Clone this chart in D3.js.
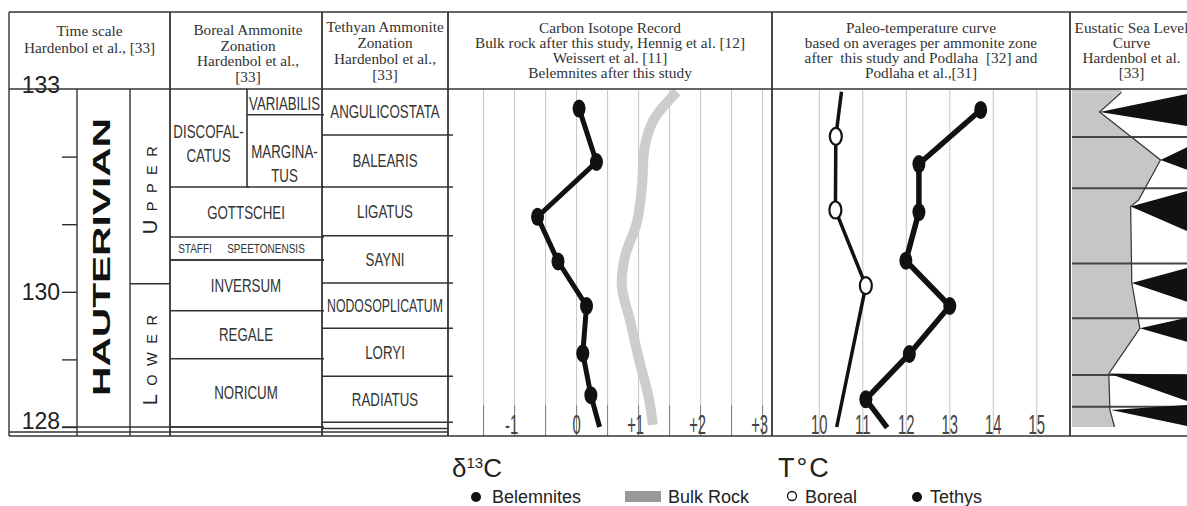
<!DOCTYPE html>
<html><head><meta charset="utf-8">
<script src="https://cdn.jsdelivr.net/npm/d3@7"></script>
<style>body{margin:0;background:#fff}</style>
</head><body>
<svg id="c" width="1187" height="506"></svg>
<script>
// ================= DATA =================
const ageDomain = [133, 128];
const ageTicks = [133, 132, 131, 130, 129, 128];
const ageTickLabels = [133, 130, 128];

const stageName = "HAUTERIVIAN";
const substageNames = ["UPPER", "LOWER"];
const substageBoundaryAge = 130.12;

const borealZones = ["DISCOFAL-|CATUS", "VARIABILIS", "MARGINA-|TUS", "GOTTSCHEI", "STAFFI", "SPEETONENSIS", "INVERSUM", "REGALE", "NORICUM"];
const borealTop   = [133, 133, 132.62, 131.55, 130.81, 130.81, 130.47, 129.72, 129.01];
const borealBase  = [131.55, 132.62, 131.55, 130.81, 130.47, 130.47, 129.72, 129.01, 128];
const borealPart  = ["left", "right", "right", "full", "smallL", "smallR", "full", "full", "full"];

const tethyanZones = ["ANGULICOSTATA", "BALEARIS", "LIGATUS", "SAYNI", "NODOSOPLICATUM", "LORYI", "RADIATUS"];
const tethyanBounds = [133, 132.32, 131.55, 130.83, 130.13, 129.46, 128.75, 128.07];

const d13cGrid = [-1.5, -1, -0.5, 0, 0.5, 1, 1.5, 2, 2.5, 3];
const d13cTicks = [-1, 0, 1, 2, 3];
const d13cTickLabels = ["-1", "0", "+1", "+2", "+3"];

const belemniteAge  = [132.71, 131.92, 131.11, 130.45, 129.79, 129.09, 128.47];
const belemniteD13C = [0.04, 0.32, -0.63, -0.30, 0.16, 0.10, 0.23];
const belemniteTail = [128.0, 0.37];

const bulkAge  = [132.96, 132.54, 132.15, 131.51, 131.02, 130.52, 130.08, 129.58, 128.95, 128.45, 128.03];
const bulkD13C = [1.62, 1.24, 1.10, 1.05, 0.97, 0.78, 0.73, 0.86, 1.02, 1.16, 1.23];

const tempTicks = [10, 11, 12, 13, 14, 15];
const borealTempAge = [132.30, 131.21, 130.09];
const borealTemp    = [10.38, 10.37, 11.07];
const borealTempHead = [132.96, 10.51];
const borealTempTail = [128.0, 10.40];
const tethysTempAge = [132.69, 131.89, 131.18, 130.46, 129.79, 129.08, 128.41];
const tethysTemp    = [13.71, 12.29, 12.29, 11.99, 13.00, 12.07, 11.07];
const tethysTempTail = [127.99, 11.56];

const seaLevelAge = [132.95, 132.66, 131.95, 131.36, 131.26, 130.13, 129.46, 128.79, 128.25, 128.0];
const seaLevel    = [43, 24, 77, 58, 51, 52, 59, 32, 33, 37];
const wedgeApexAge   = [132.66, 131.95, 131.26, 130.13, 129.46, 128.79, 128.25];
const wedgeApexLevel = [24, 77, 51, 52, 59, 32, 34];
const wedgeTopAge    = [132.94, 132.17, 131.51, 130.37, 129.63, 128.77, 128.33];
const wedgeBaseAge   = [132.44, 131.78, 130.87, 129.83, 129.24, 128.36, 128.0];
const sequenceBoundaryAge = [132.29, 131.53, 130.42, 129.61, 128.77, 128.30];

const headerTitles = [
  ["Time scale", "Hardenbol et al., [33]"],
  ["Boreal Ammonite", "Zonation", "Hardenbol et al.,", "[33]"],
  ["Tethyan Ammonite", "Zonation", "Hardenbol et al.,", "[33]"],
  ["Carbon Isotope Record", "Bulk rock after this study, Hennig et al. [12]", "Weissert et al. [11]", "Belemnites after this study"],
  ["Paleo-temperature curve", "based on averages per ammonite zone", "after  this study and Podlaha  [32] and", "Podlaha et al.,[31]"],
  ["Eustatic Sea Level", "Curve", "Hardenbol et al.", "[33]"]
];
const legendItems = ["Belemnites", "Bulk Rock", "Boreal", "Tethys"];

// ================= LAYOUT =================
const SANS = "'Liberation Sans', Arial, Helvetica, sans-serif";
const SERIF = "'Liberation Serif', 'Times New Roman', serif";
const LINE = "#333";
const colX = [9, 170, 322, 448, 772, 1070, 1187];
const headTop = 12, headBot = 89, bodyBot = 436;

const svg = d3.select("#c");
svg.append("rect").attr("width", 1187).attr("height", 506).attr("fill", "#fff");

const y = d3.scaleLinear().domain(ageDomain).range([89, 427]);
const xC = d3.scaleLinear().domain([-1.5, 3]).range([576.6 - 93, 576.6 + 186]);
const xT = d3.scaleLinear().domain([10, 15]).range([819.3, 1036.8]);
const xS = d3.scaleLinear().domain([0, 100]).range([1072, 1187]);

function nText(g, x, yy, str, size, sx, maxW, opts = {}) {
  const t = g.append("text")
    .attr("font-family", SANS).attr("font-size", size)
    .attr("text-anchor", opts.anchor || "middle")
    .attr("fill", opts.fill || "#333")
    .text(str);
  let s = sx;
  if (maxW) { const w = t.node().getComputedTextLength(); if (w * s > maxW) s = maxW / w; }
  t.attr("transform", `translate(${x},${yy}) scale(${s},1)`);
  return t;
}

// ---------- header ----------
const hdr = svg.append("g");
const hStart = [36, 35, 32, 33, 33, 33];
const hStep = [17, 15.5, 16, 15, 15, 15];
const hShift = [0, 2, 0, 0, 0, 3];
headerTitles.forEach((lines, i) => {
  const cx = (colX[i] + colX[i + 1]) / 2 + hShift[i];
  lines.forEach((ln, j) => {
    hdr.append("text").attr("x", cx).attr("y", hStart[i] + j * hStep[i])
      .attr("text-anchor", "middle").attr("font-family", SERIF).attr("font-size", 15.3)
      .attr("fill", "#333").style("white-space", "pre").text(ln);
  });
});

// ---------- sea level panel ----------
svg.append("defs").append("clipPath").attr("id", "slclip")
  .append("rect").attr("x", 1071).attr("y", 89).attr("width", 116).attr("height", 340);
const sl = svg.append("g").attr("clip-path", "url(#slclip)");
const slData = seaLevelAge.map((a, i) => ({ age: a, lv: seaLevel[i] }));
const slArea = d3.area().y(d => y(d.age)).x0(xS(0)).x1(d => xS(d.lv));
sl.append("path").datum(slData).attr("d", slArea).attr("fill", "#c6c6c6");
sl.append("path").datum([{ age: 133, lv: seaLevel[0] }, slData[0]]).attr("d", slArea).attr("fill", "#c6c6c6");
sl.selectAll("line.sb").data(sequenceBoundaryAge).join("line")
  .attr("x1", xS(0)).attr("x2", xS(100)).attr("y1", d => y(d)).attr("y2", d => y(d))
  .attr("stroke", "#444").attr("stroke-width", 2);
sl.append("path").datum(slData)
  .attr("d", d3.line().x(d => xS(d.lv)).y(d => y(d.age)))
  .attr("fill", "none").attr("stroke", "#333").attr("stroke-width", 1.2);
sl.selectAll("path.wedge").data(wedgeApexAge).join("path")
  .attr("d", (a, i) => `M${xS(wedgeApexLevel[i])},${y(a)}L${xS(104)},${y(wedgeTopAge[i])}L${xS(104)},${y(wedgeBaseAge[i])}Z`)
  .attr("fill", "#111");

// ---------- carbon isotope panel ----------
const cp = svg.append("g");
cp.selectAll("line.grid").data(d13cGrid).join("line")
  .attr("x1", d => xC(d)).attr("x2", d => xC(d)).attr("y1", 90).attr("y2", 405)
  .attr("stroke", "#c4c4c4").attr("stroke-width", 1);
cp.selectAll("line.gridb").data(d13cGrid).join("line")
  .attr("x1", d => xC(d)).attr("x2", d => xC(d)).attr("y1", 405).attr("y2", bodyBot)
  .attr("stroke", "#777").attr("stroke-width", 1);
d13cTicks.forEach((t, i) => {
  nText(cp, xC(t) - (t === 0 ? 0 : 3), 434, d13cTickLabels[i], 27, 0.55, null, { fill: "#444" });
});
const bulkData = bulkAge.map((a, i) => ({ age: a, v: bulkD13C[i] }));
cp.append("path").datum(bulkData)
  .attr("d", d3.line().x(d => xC(d.v)).y(d => y(d.age)).curve(d3.curveCatmullRom))
  .attr("fill", "none").attr("stroke", "#cdcdcd").attr("stroke-width", 10).attr("stroke-linecap", "butt");
const belData = belemniteAge.map((a, i) => ({ age: a, v: belemniteD13C[i] }));
cp.append("path").datum(belData.concat([{ age: belemniteTail[0], v: belemniteTail[1] }]))
  .attr("d", d3.line().x(d => xC(d.v)).y(d => y(d.age)))
  .attr("fill", "none").attr("stroke", "#111").attr("stroke-width", 5);
cp.selectAll("ellipse").data(belData).join("ellipse")
  .attr("cx", d => xC(d.v)).attr("cy", d => y(d.age)).attr("rx", 6.5).attr("ry", 9).attr("fill", "#111");

// ---------- temperature panel ----------
const tp = svg.append("g");
tp.selectAll("line.grid").data(tempTicks).join("line")
  .attr("x1", d => xT(d)).attr("x2", d => xT(d)).attr("y1", 90).attr("y2", bodyBot)
  .attr("stroke", "#c4c4c4").attr("stroke-width", 1);
tempTicks.forEach(t => nText(tp, xT(t), 434, String(t), 27, 0.55, null, { fill: "#444" }));
const borData = borealTempAge.map((a, i) => ({ age: a, v: borealTemp[i] }));
tp.append("path").datum([{ age: borealTempHead[0], v: borealTempHead[1] }].concat(borData, [{ age: borealTempTail[0], v: borealTempTail[1] }]))
  .attr("d", d3.line().x(d => xT(d.v)).y(d => y(d.age)))
  .attr("fill", "none").attr("stroke", "#111").attr("stroke-width", 3.5);
const tetData = tethysTempAge.map((a, i) => ({ age: a, v: tethysTemp[i] }));
tp.append("path").datum(tetData.concat([{ age: tethysTempTail[0], v: tethysTempTail[1] }]))
  .attr("d", d3.line().x(d => xT(d.v)).y(d => y(d.age)))
  .attr("fill", "none").attr("stroke", "#111").attr("stroke-width", 5.5);
tp.selectAll("ellipse.b").data(borData).join("ellipse")
  .attr("cx", d => xT(d.v)).attr("cy", d => y(d.age)).attr("rx", 6).attr("ry", 8.5)
  .attr("fill", "#fff").attr("stroke", "#111").attr("stroke-width", 2.2);
tp.selectAll("ellipse.t").data(tetData).join("ellipse")
  .attr("cx", d => xT(d.v)).attr("cy", d => y(d.age)).attr("rx", 6.5).attr("ry", 9).attr("fill", "#111");

// ---------- time scale ----------
const ts = svg.append("g");
const axis = d3.axisLeft(y).tickValues(ageTicks).tickSize(15).tickPadding(2)
  .tickFormat(d => ageTickLabels.includes(d) ? String(d) : "");
const ax = ts.append("g").attr("transform", "translate(77,0)").call(axis);
ax.select(".domain").remove();
ax.selectAll(".tick line").attr("stroke", "#222").attr("stroke-width", 1.3)
  .filter(d => d === 133).remove();
ax.selectAll(".tick text").attr("font-family", SANS).attr("font-size", 23).attr("fill", "#222")
  .attr("dy", d => d === 133 ? "0.15em" : d === 128 ? "0.08em" : "0.34em");

ts.append("text").attr("transform", `translate(110,${y(130.5) - 1}) rotate(-90)`)
  .attr("text-anchor", "middle").attr("font-family", SANS).attr("font-weight", "bold")
  .attr("font-size", 23).attr("fill", "#111")
  .attr("textLength", 278).attr("lengthAdjust", "spacingAndGlyphs").text(stageName);
const subCenterY = [186, 356];
substageNames.forEach((nm, i) => {
  const t = ts.append("text").attr("transform", `translate(157,${subCenterY[i]}) rotate(-90)`)
    .attr("text-anchor", "middle").attr("font-family", SANS).attr("fill", "#222")
    .attr("letter-spacing", 8.5);
  t.append("tspan").attr("font-size", 20).text(nm[0]);
  t.append("tspan").attr("font-size", 14.5).text(nm.slice(1));
});
ts.append("line").attr("x1", 130).attr("x2", 170)
  .attr("y1", y(substageBoundaryAge)).attr("y2", y(substageBoundaryAge)).attr("stroke", LINE).attr("stroke-width", 1.5);

// ---------- boreal zones ----------
const bz = svg.append("g");
const partX = { left: [170, 247], right: [247, 322], full: [170, 322], smallL: [172, 218], smallR: [212, 320] };
const lineX = { left: [170, 247], right: [247, 322], full: [170, 322], smallL: [170, 322], smallR: [170, 322] };
const labelShift = { "DISCOFAL-|CATUS": 6, "MARGINA-|TUS": 13, "VARIABILIS": 2 };
borealZones.forEach((nm, i) => {
  const [x0, x1] = lineX[borealPart[i]];
  bz.append("line").attr("x1", x0).attr("x2", x1 + 2).attr("y1", y(borealBase[i])).attr("y2", y(borealBase[i]))
    .attr("stroke", LINE).attr("stroke-width", 1.6);
  const [p0, p1] = partX[borealPart[i]];
  const lines = nm.split("|");
  const small = borealPart[i].startsWith("small");
  const size = small ? 13 : 18;
  const mid = (y(borealTop[i]) + y(borealBase[i])) / 2 + (labelShift[nm] || 0);
  const lh = 24;
  lines.forEach((ln, j) => {
    const cy = mid + (j - (lines.length - 1) / 2) * lh;
    nText(bz, (p0 + p1) / 2, cy + size * 0.36, ln, size, small ? 0.77 : 0.74, (p1 - p0) - 4);
  });
});
bz.append("line").attr("x1", 247).attr("x2", 247).attr("y1", y(133)).attr("y2", y(131.55))
  .attr("stroke", LINE).attr("stroke-width", 1.6);

// ---------- tethyan zones ----------
const tz = svg.append("g");
tethyanBounds.forEach((b, i) => {
  if (i === 0) return;
  tz.append("line").attr("x1", 322).attr("x2", 453).attr("y1", y(b)).attr("y2", y(b))
    .attr("stroke", LINE).attr("stroke-width", 1.6);
});
tz.append("line").attr("x1", 322).attr("x2", 448).attr("y1", 428.5).attr("y2", 428.5)
  .attr("stroke", LINE).attr("stroke-width", 1.6);
tethyanZones.forEach((nm, i) => {
  const mid = (y(tethyanBounds[i]) + y(tethyanBounds[i + 1])) / 2;
  nText(tz, 385, mid + 18 * 0.36, nm, 18, 0.74, 116);
});

// ---------- frame ----------
const fr = svg.append("g").attr("stroke", LINE).attr("fill", "none");
fr.append("line").attr("x1", 9).attr("x2", 1187).attr("y1", headTop).attr("y2", headTop).attr("stroke-width", 1.6);
fr.append("line").attr("x1", 9).attr("x2", 1187).attr("y1", headBot).attr("y2", headBot).attr("stroke-width", 1.6);
colX.slice(0, 6).forEach(x => fr.append("line").attr("x1", x).attr("x2", x).attr("y1", headTop).attr("y2", bodyBot).attr("stroke-width", x === 9 ? 1.4 : 1.8));
[77, 130].forEach(x => fr.append("line").attr("x1", x).attr("x2", x).attr("y1", headBot).attr("y2", bodyBot).attr("stroke-width", 1.4));
fr.append("line").attr("x1", 62).attr("x2", 322).attr("y1", y(128)).attr("y2", y(128)).attr("stroke-width", 1.4);
fr.append("line").attr("x1", 9).attr("x2", 448).attr("y1", 432).attr("y2", 432).attr("stroke-width", 1.3);
fr.append("line").attr("x1", 9).attr("x2", 1187).attr("y1", bodyBot).attr("y2", bodyBot).attr("stroke-width", 1.6);

// ---------- legend ----------
const lg = svg.append("g").attr("font-family", SANS).attr("fill", "#222");
const d13 = lg.append("text").attr("x", 452).attr("y", 477).attr("font-size", 26);
d13.append("tspan").text("δ");
d13.append("tspan").attr("font-size", 15).attr("dy", -9).text("13");
d13.append("tspan").attr("dy", 9).text("C");
lg.append("text").attr("x", 778).attr("y", 477).attr("font-size", 27)
  .attr("letter-spacing", 2).text("T°C");
const legY = 503;
lg.append("circle").attr("cx", 476).attr("cy", legY - 6).attr("r", 5).attr("fill", "#111");
lg.append("text").attr("x", 492).attr("y", legY).attr("font-size", 18).text(legendItems[0]);
lg.append("rect").attr("x", 625).attr("y", legY - 12).attr("width", 36).attr("height", 11).attr("fill", "#999");
lg.append("text").attr("x", 668).attr("y", legY).attr("font-size", 18).text(legendItems[1]);
lg.append("circle").attr("cx", 792).attr("cy", legY - 7).attr("r", 4.5).attr("fill", "#fff").attr("stroke", "#111").attr("stroke-width", 1.3);
lg.append("text").attr("x", 805).attr("y", legY).attr("font-size", 18).text(legendItems[2]);
lg.append("circle").attr("cx", 917).attr("cy", legY - 6).attr("r", 5).attr("fill", "#111");
lg.append("text").attr("x", 930).attr("y", legY).attr("font-size", 18).text(legendItems[3]);
</script>
</body></html>
